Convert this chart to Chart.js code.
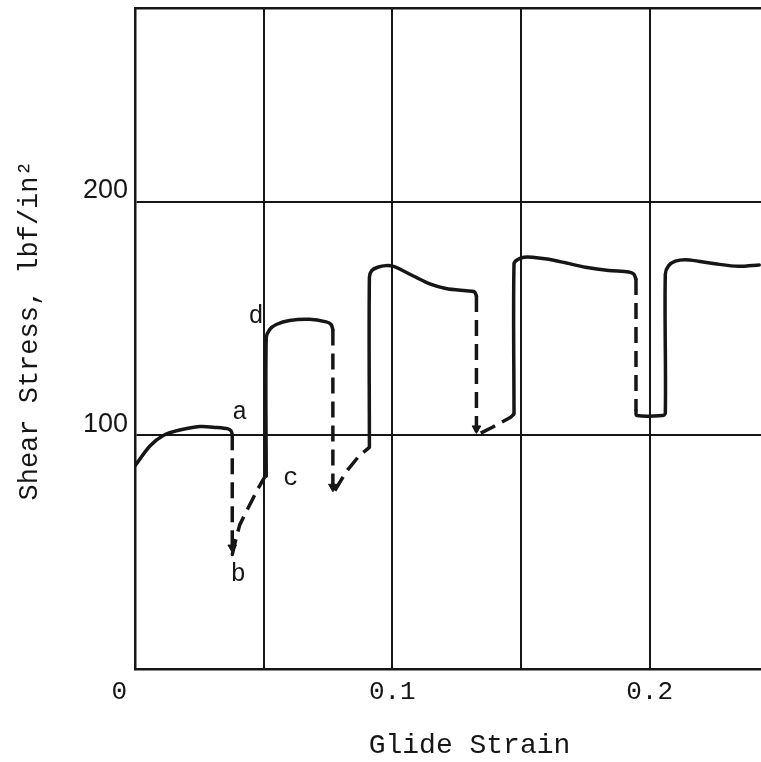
<!DOCTYPE html>
<html>
<head>
<meta charset="utf-8">
<script src="https://cdn.jsdelivr.net/npm/chart.js@4/dist/chart.umd.min.js"></script>
<style>
  html, body { margin: 0; padding: 0; background: #fff; overflow: hidden; }
  /* plot runs a little past the right edge of the window, like the cropped scan */
  #wrap { position: absolute; left: 0; top: 0; width: 810px; height: 762px; }
</style>
</head>
<body>
<div id="wrap"><canvas id="glideChart"></canvas></div>
<script>
// Shear stress vs glide strain, loading / unloading cycles
// null in a stress array lifts the pen

// solid: loading branches
const solidStrain = [
    0, 0.0058, 0.011, 0.0174, 0.0252, 0.0317, 0.0362, 0.0373, 0.0378,
    0.0378,
    0.0510, 0.0510, 0.0523, 0.0549, 0.0601, 0.0678, 0.0743, 0.0762, 0.0769,
    0.0769,
    0.0911, 0.0911, 0.0920, 0.0943, 0.0975, 0.1008, 0.1040, 0.1092, 0.1143, 0.1208, 0.1286, 0.1318, 0.1327,
    0.1327,
    0.1473, 0.1473, 0.1486, 0.1512, 0.1544, 0.1609, 0.1673, 0.1751, 0.1841, 0.1919, 0.1938, 0.1947,
    0.1947,
    0.1947, 0.1950, 0.2050, 0.2061, 0.2061, 0.2074, 0.2100, 0.2138, 0.2190, 0.2254, 0.2345, 0.2426,
];
const solidStress = [
    87, 95.5, 100, 102.3, 103.8, 103.4, 102.8, 102, 100.5,
    null,
    82.5, 141.7, 145.3, 147.5, 149.2, 149.7, 148.6, 147.5, 145.3,
    null,
    94.9, 167.7, 170.6, 172, 172.7, 172.3, 170.6, 167.7, 165, 162.9, 161.9, 161.6, 159.7,
    null,
    109.2, 173.5, 175.2, 176.3, 176.3, 175.4, 173.9, 172, 170.6, 170, 169.1, 167,
    null,
    110.5, 108.5, 108.5, 109.5, 169, 172.7, 174.6, 175.2, 174.6, 173.5, 172.4, 173,
];

// dashed: unloading drops and recovery
const dashStrain = [
    0.0378, 0.0378, 0.0393, 0.0407, 0.0426, 0.0452, 0.0478, 0.0504,
    0.0504,
    0.0769, 0.0769, 0.0820, 0.0872, 0.0911,
    0.0911,
    0.1327, 0.1327, 0.1389, 0.1460, 0.1473,
    0.1473,
    0.1947, 0.1947,
];
const dashStress = [
    100.5, 49, 56, 61.7, 66, 71.6, 77.2, 82.2,
    null,
    145.3, 75, 84.3, 91.4, 94.9,
    null,
    159.7, 100.1, 103.5, 107.8, 109.2,
    null,
    167, 110.5,
];

// arrow heads at the foot of the drops
const arrowStrain = [0.0378, 0.0769, 0.1327];
const arrowStress = [52, 78, 103];

// letters on the first cycle
const letterText   = ["a", "b", "c", "d"];
const letterStrain = [0.0407, 0.0401, 0.0605, 0.0470];
const letterStress = [110, 40.5, 81.4, 151];

// axes
const xGridValues = [0, 0.05, 0.1, 0.15, 0.2, 0.25];
const xTickLabels = ["0  ", "", "0.1", "", "0.2", ""];
const yGridValues = [0, 100, 200];
const yTickLabels = ["", "100", "200"];

const INK  = "#161616";
const MONO = "'Liberation Mono', 'DejaVu Sans Mono', monospace";
const SANS = "'Liberation Sans', Arial, sans-serif";

const toPoints = (xs, ys) => xs.map((v, i) => ({ x: v, y: ys[i] }));

// draws a, b, c, d next to the curve
const letterPlugin = {
    id: "curveLetters",
    afterDatasetsDraw(chart) {
        const { ctx, scales } = chart;
        ctx.save();
        ctx.font = "25px " + MONO;
        ctx.fillStyle = INK;
        ctx.textAlign = "center";
        ctx.textBaseline = "middle";
        letterText.forEach((t, i) => {
            ctx.fillText(t, scales.x.getPixelForValue(letterStrain[i]), scales.y.getPixelForValue(letterStress[i]));
        });
        ctx.restore();
    }
};

new Chart(document.getElementById("glideChart"), {
    type: "line",
    data: {
        datasets: [
            {
                data: toPoints(solidStrain, solidStress),
                borderColor: INK,
                borderWidth: 3.5,
                borderJoinStyle: "round",
                borderCapStyle: "round",
                pointRadius: 0,
                // a little smoothing, the pen trace is rounded at the corners
                tension: 0.3,
                spanGaps: false,
            },
            {
                data: toPoints(dashStrain, dashStress),
                borderColor: INK,
                borderWidth: 3.5,
                borderDash: [16, 8],
                borderJoinStyle: "round",
                pointRadius: 0,
                tension: 0,
                spanGaps: false,
            },
            {
                data: toPoints(arrowStrain, arrowStress),
                showLine: false,
                pointStyle: "triangle",
                rotation: 180,
                pointRadius: 5,
                pointBackgroundColor: INK,
                pointBorderColor: INK,
                pointBorderWidth: 1,
            },
        ]
    },
    options: {
        responsive: true,
        maintainAspectRatio: false,
        animation: false,
        layout: { padding: { left: 0, right: 4, top: 0, bottom: 0 } },
        plugins: {
            legend:  { display: false },
            tooltip: { enabled: false },
        },
        scales: {
            x: {
                type: "linear",
                position: "bottom",
                min: 0,
                max: 0.26,
                afterBuildTicks(scale) { scale.ticks = xGridValues.map(v => ({ value: v })); },
                afterFit(scale) {
                    scale.height = 93;
                    scale.paddingLeft = 0;
                    scale.paddingRight = 0;
                },
                grid:   { color: INK, lineWidth: 2, drawTicks: false },
                border: { color: INK, width: 2.5 },
                ticks: {
                    autoSkip: false,
                    maxRotation: 0,
                    padding: 8,
                    color: INK,
                    font: { family: MONO, size: 26 },
                    callback: (v, i) => xTickLabels[i],
                },
                title: {
                    display: true,
                    text: "Glide Strain",
                    color: INK,
                    font: { family: MONO, size: 28 },
                    padding: { top: 0, bottom: 0 },
                },
            },
            // only there to draw the top frame line
            xTop: {
                type: "linear",
                position: "top",
                min: 0,
                max: 0.26,
                afterFit(scale) {
                    scale.height = 8;
                    scale.paddingLeft = 0;
                    scale.paddingRight = 0;
                },
                grid:   { display: false, drawTicks: false },
                border: { display: true, color: INK, width: 2.5 },
                ticks:  { display: false },
            },
            y: {
                min: 0,
                max: 283,
                afterBuildTicks(scale) { scale.ticks = yGridValues.map(v => ({ value: v })); },
                afterFit(scale) {
                    scale.width = 135;
                    scale.paddingTop = 0;
                    scale.paddingBottom = 0;
                },
                grid:   { color: INK, lineWidth: 2, drawTicks: false },
                border: { color: INK, width: 2.5 },
                ticks: {
                    autoSkip: false,
                    padding: 7,
                    labelOffset: -11,
                    color: INK,
                    font: { family: SANS, size: 27 },
                    callback: (v, i) => yTickLabels[i],
                },
                title: {
                    display: true,
                    // leading space nudges the text up a little, as in the original
                    text: " Shear Stress, lbf/in²",
                    color: INK,
                    font: { family: MONO, size: 27 },
                    padding: { top: 14, bottom: 0 },
                },
            },
        }
    },
    plugins: [letterPlugin]
});
</script>
</body>
</html>
